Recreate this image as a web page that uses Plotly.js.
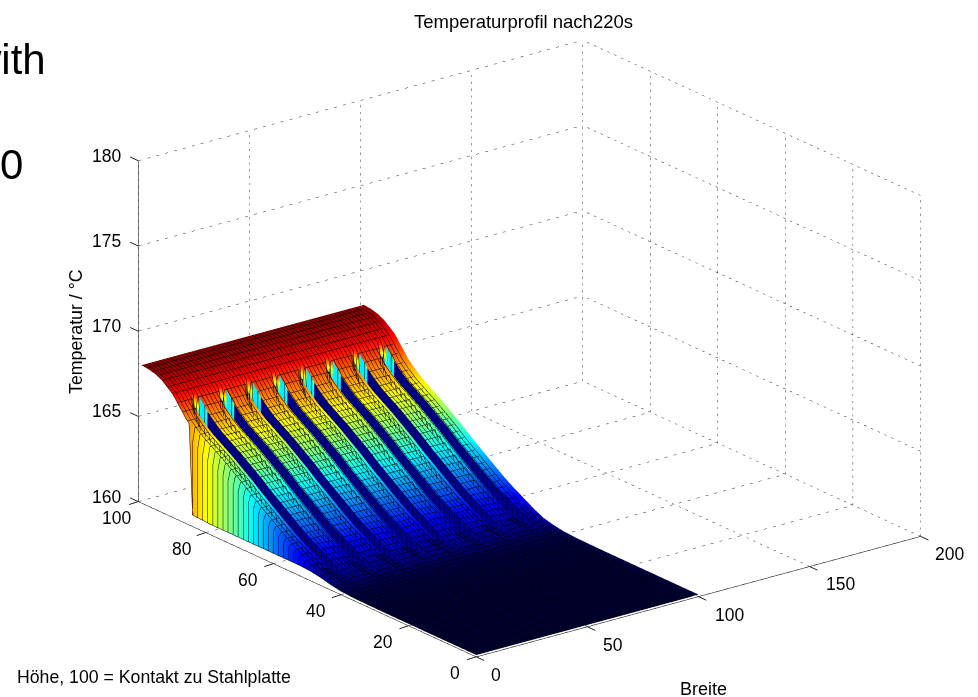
<!DOCTYPE html>
<html><head><meta charset="utf-8">
<script src="https://cdn.plot.ly/plotly-3.0.1.min.js"></script>
<style>html,body{margin:0;padding:0;background:#fff;overflow:hidden}#g{width:978px;height:697px}</style>
</head><body><div id="g"></div>
<script>
// Axis ticks
const xTicks=[0,50,100,150,200];
const yTicks=[0,20,40,60,80,100];
const zTicks=[160,165,170,175,180];
// Rows along Höhe and the temperature read along a ridge at each of them
const hoehe=[0,15,30,36,40,43,46,49,52,55,58,61,64,67,70,73,76,79,82,84,85,86,86.5,87,88,88.5,89,90,91.5,93,95,97,99];
const ridgeZ=[160.12,160.12,160.13,160.15,160.2,160.3,160.45,160.75,161.1,161.45,161.85,162.3,162.75,163.2,163.7,164.15,164.6,165,165.4,165.75,165.95,166.15,166.3,166.45,166.7,166.85,167,167.25,167.5,167.75,167.95,168.05,168.1];
// Floor of a slot between ridges; the slot head is a shallow hollow
const slotZ=[160.12,160.12,160.13,160.15,160.2,160.22,160.25,160.28,160.3,160.3,160.3,160.3,160.3,160.3,160.3,160.3,160.3,160.3,160.3,160.3,160.3,160.3,164.7,164.85,165.1,165.25,165.4,165.6,165.9,166.1,166.3,166.4,166.5];
// Lower edge of the outer wall at Breite 0 (rows up to the wall's top)
const wallZ=[160.12,160.12,160.13,160.15,160.2,160.3,160.45,160.55,160.6,160.6,160.6,160.6,160.6,160.6,160.6,160.6,160.6,160.6,160.65,160.65];
// Slot centres on Breite and the columns inside one slot
const slotCentre=[8,20,32,44,56,68,80,92];
const slotOffset=[-2,-1,0,1,1.96];
const slotTopY=[86.5,88.5,89,88.5,88.5];
const wallOffset=1.98, edgeOffset=2, wallGap=0.02;
const deepTopY=86.5, cyanColour=163, lowColour=160.35, breiteEnd=100;

const cols=[];
cols.push({x:0,edge:true,top:-1});
cols.push({x:wallGap,top:-1});
slotCentre.forEach(c=>{
  cols.push({x:c+slotOffset[0]-wallGap,top:-1});
  slotOffset.forEach((o,i)=>cols.push({x:c+o,top:slotTopY[i]}));
  cols.push({x:c+wallOffset,top:88.5,cyan:true});
  cols.push({x:c+edgeOffset,top:deepTopY,cyan:true});
  cols.push({x:c+edgeOffset+wallGap,top:-1,wall:true});
  cols.push({x:c+edgeOffset+2*wallGap,top:-1});
});
cols.push({x:breiteEnd,top:-1});

const X=cols.map(c=>c.x), Z=[], C=[];
hoehe.forEach((y,j)=>{
  const r=[],k=[];
  cols.forEach(c=>{
    let z=ridgeZ[j], col=ridgeZ[j];
    if(c.edge && j<wallZ.length){z=Math.min(wallZ[j],ridgeZ[j]);}
    if(y<c.top){z=slotZ[j];col=Math.min(lowColour,ridgeZ[j]);}
    if(c.cyan && y>=deepTopY && y<=88.5){col=cyanColour;}
    if(c.wall && y<deepTopY){col=Math.min(lowColour,ridgeZ[j]);}
    r.push(z);k.push(col);
  });
  Z.push(r);C.push(k);
});

const jet=[[0,'#00003c'],[0.03,'#00008f'],[0.125,'#0000ff'],[0.375,'#00ffff'],[0.625,'#ffff00'],[0.875,'#ff0000'],[1,'#800000']];
const traces=[{
  type:'surface',x:X,y:hoehe,z:Z,surfacecolor:C,cmin:160.1,cmax:168.2,colorscale:jet,showscale:false,hoverinfo:'skip',
  lighting:{ambient:1,diffuse:0,specular:0,roughness:1,fresnel:0},
  contours:{
    x:{show:true,start:0,end:100,size:1.6,color:'#000',width:1,highlight:false},
    y:{show:true,start:0,end:99,size:1.5,color:'#000',width:1,highlight:false},
    z:{show:false,highlight:false}
  }
}];
function gridLine(xs,ys,zs){traces.push({type:'scatter3d',mode:'lines',x:xs,y:ys,z:zs,showlegend:false,hoverinfo:'skip',line:{color:'#333',width:1,dash:'dash'}});}
const x0=xTicks[0],x1=xTicks[4],y0=yTicks[0],y1=yTicks[5],z0=zTicks[0],z1=zTicks[4];
xTicks.forEach(v=>{gridLine([v,v],[y0,y1],[z0,z0]);gridLine([v,v],[y1,y1],[z0,z1]);});
yTicks.forEach(v=>{gridLine([x0,x1],[v,v],[z0,z0]);gridLine([x1,x1],[v,v],[z0,z1]);});
zTicks.forEach(v=>{gridLine([x0,x1],[y1,y1],[v,v]);gridLine([x1,x1],[y0,y1],[v,v]);});

const fam='"Liberation Sans",Arial,sans-serif';
const tickFont={family:fam,size:17.5,color:'#000'};
const sceneNotes=[];
function tick(x,y,z,label,tx,ty,lx,ly){
  sceneNotes.push({x:x,y:y,z:z,text:' ',showarrow:true,arrowhead:0,arrowwidth:1,arrowcolor:'#222',ax:tx,ay:ty,standoff:0,startstandoff:0});
  sceneNotes.push({x:x,y:y,z:z,text:label,showarrow:false,xshift:lx,yshift:-ly,xanchor:'center',yanchor:'middle',font:tickFont});
}
const xLabelShift=[20,26,31,31,29];
const yLabelShift=[-21,-25,-25,-25,-24,-22];
xTicks.forEach((v,i)=>tick(v,y0,z0,String(v),11,5,xLabelShift[i],18));
yTicks.forEach((v,i)=>tick(x0,v,z0,String(v),-12,4,yLabelShift[i],16));
zTicks.forEach(v=>tick(x0,y1,v,String(v),-11,-5,-32,-5));

const ax=(range,eps)=>({range:[range[0]-eps,range[1]+eps],autorange:false,showticklabels:false,ticks:'',showgrid:false,zeroline:false,showbackground:false,showspikes:false,showline:true,linecolor:'#000',linewidth:1,title:{text:''}});
const layout={
  width:978,height:697,margin:{l:0,r:0,t:0,b:0},paper_bgcolor:'#fff',showlegend:false,
  title:{text:'Temperaturprofil nach220s',x:523.5/978,y:1-22/697,xanchor:'center',yanchor:'middle',font:{family:fam,size:18.5,color:'#000'}},
  scene:{
    domain:{x:[0.0824,1],y:[0,1]},
    xaxis:ax([x0,x1],0.05),yaxis:ax([y0,y1],0.03),zaxis:ax([z0,z1],0.005),
    aspectmode:'manual',aspectratio:{x:1.608,y:1.592,z:1.046},
    camera:{projection:{type:'orthographic'},up:{x:0,y:0,z:1},center:{x:0,y:0,z:0},eye:{x:-1.14,y:-1.484,z:0.706}},
    annotations:sceneNotes
  },
  annotations:[
    {xref:'paper',yref:'paper',x:48/978,y:1-60/697,xanchor:'right',yanchor:'middle',text:'with',showarrow:false,font:{family:fam,size:42,color:'#000'}},
    {xref:'paper',yref:'paper',x:25/978,y:1-164/697,xanchor:'right',yanchor:'middle',text:'0',showarrow:false,font:{family:fam,size:42,color:'#000'}},
    {xref:'paper',yref:'paper',x:76/978,y:1-332/697,xanchor:'center',yanchor:'middle',textangle:-90,text:'Temperatur / °C',showarrow:false,font:{family:fam,size:17.8,color:'#000'}},
    {xref:'paper',yref:'paper',x:15/978,y:1-677/697,xanchor:'left',yanchor:'middle',text:'Höhe, 100 = Kontakt zu Stahlplatte',showarrow:false,font:{family:fam,size:17.7,color:'#000'}},
    {xref:'paper',yref:'paper',x:703/978,y:1-689/697,xanchor:'center',yanchor:'middle',text:'Breite',showarrow:false,font:{family:fam,size:18,color:'#000'}}
  ]
};
Plotly.newPlot('g',traces,layout,{displayModeBar:false});
</script></body></html>
